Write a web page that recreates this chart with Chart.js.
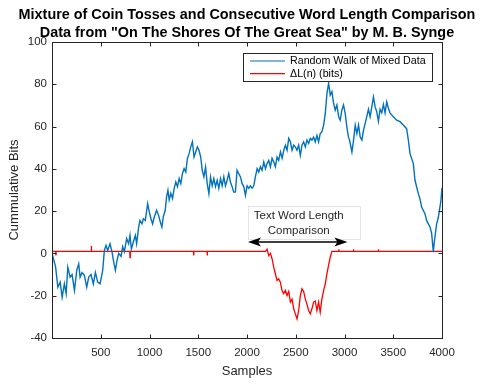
<!DOCTYPE html>
<html><head><meta charset="utf-8">
<script src="https://cdn.jsdelivr.net/npm/chart.js@4/dist/chart.umd.min.js"></script>
<style>html,body{margin:0;padding:0;background:#fff}#wrap{width:485px;height:385px}</style>
</head><body><div id="wrap"><canvas id="c" width="485" height="385"></canvas></div>
<script>
const titleLines = ['Mixture of Coin Tosses and Consecutive Word Length Comparison', 'Data from "On The Shores Of The Great Sea" by M. B. Synge'];
const xLabel = 'Samples';
const yLabel = 'Cummulative Bits';
const seriesNames = ['Random Walk of Mixed Data', '\u0394L(n) (bits)'];
const xTicks = [500, 1000, 1500, 2000, 2500, 3000, 3500, 4000];
const yTicks = [-40, -20, 0, 20, 40, 60, 80, 100];
const noteLines = ['Text Word Length', 'Comparison'];
const arrowFrom = 2010, arrowTo = 3030, arrowLevel = 5.4;

const walkSamples = [1,9,37,60,84,104,127,145,162,186,206,230,254,274,288,308,332,356,377,400,424,445,469,493,520,537,554,571,595,616,630,650,667,684,708,725,742,766,786,800,814,834,855,868,889,902,923,937,957,981,998,1015,1032,1049,1073,1093,1107,1127,1141,1161,1175,1189,1202,1219,1236,1253,1270,1287,1304,1321,1338,1355,1372,1389,1406,1423,1440,1457,1474,1491,1508,1525,1541,1558,1575,1592,1609,1626,1643,1660,1677,1694,1711,1728,1745,1762,1779,1796,1813,1830,1847,1864,1881,1898,1915,1933,1950,1967,1984,2001,2018,2035,2052,2069,2086,2104,2121,2138,2155,2172,2189,2206,2223,2240,2257,2274,2291,2308,2325,2343,2360,2377,2394,2411,2428,2445,2462,2479,2496,2513,2530,2547,2564,2581,2598,2615,2632,2649,2666,2683,2700,2717,2734,2751,2768,2786,2803,2820,2837,2854,2871,2888,2905,2922,2940,2956,2973,2990,3007,3024,3041,3052,3076,3093,3110,3127,3144,3161,3178,3195,3212,3246,3263,3297,3314,3331,3348,3365,3382,3399,3416,3433,3450,3467,3501,3535,3569,3603,3637,3655,3672,3706,3723,3757,3774,3791,3825,3842,3860,3877,3894,3911,3921,3945,3962,3989,4000];
const walkBits = [0,0,-6.5,-16,-13.6,-20.7,-14.4,-19,-6.5,-11.2,-10,-17.5,-8,-4.9,-11.2,-9,-10.3,-16,-11.2,-10,-14.4,-9,-13.6,-14.4,-8,1.4,3.8,1.4,4.6,0.6,-3.3,-8,-3.3,0,-1.4,3.2,0.8,7,4.6,8.5,2,5.4,8.5,4.6,12.5,15.6,14,16.4,15.6,23.5,19.6,16.4,14,17.2,20.4,18,15.6,12.5,17.2,20.4,26.7,29.9,25.3,28.4,26,30.8,33.8,31.6,35.4,33,37.8,40.1,38.5,44.9,47.2,50.4,52.8,45.6,48,50.4,48.8,45.6,39.3,36.2,40.9,33,28.3,36.2,32,35.4,31.6,34.6,30.8,35.4,32,36.2,32,34.6,37.8,33.8,31.6,29,29,39.3,37.8,36.2,33,31.6,27.5,32,30.8,32,30.8,32,36.2,40.1,38.5,41,39.3,43.3,40.1,42.5,44,41,45,43.3,41,45.6,44,48,45,48.8,51.2,48.8,54.4,52.8,48.8,51.2,50.4,48.8,51.2,46.4,51.2,52.8,50.4,53.6,52,54.4,53.6,55,52.8,55.8,52.8,56.7,57.5,60.7,66.2,75.7,80.4,74.9,76.5,71,67.8,70.2,64.6,63,67.8,70.2,66.2,59.9,55,53.6,48,53.6,60.7,56.7,60.7,55,53.6,58.3,61.5,68.2,64.6,74,69.3,67,62.5,68.2,66.5,70.5,66.5,71.7,68.7,66.5,64.6,63,62.3,60.7,59,53.6,47.2,42.5,34.6,28.3,25.9,21.9,18.8,15.6,14,12.5,9.5,0.6,5.4,14,17,25,31];

const deltaSamples = [1,38,40,42,400,403,406,797,800,803,1450,1453,1456,1590,1592,1594,2189,2206,2223,2240,2257,2274,2291,2308,2325,2342,2359,2376,2394,2411,2428,2445,2462,2479,2496,2513,2530,2547,2564,2581,2598,2615,2632,2649,2666,2683,2700,2717,2734,2751,2768,2786,2803,2820,2837,2854,2871,2940,2942,2944,3090,3092,3094,3346,3348,3350,4000];
const deltaBits = [1,1,-1,1,1,3.5,1,1,-2,1,1,-1,1,1,-1,1,1,2,-1,0,-2.5,-6.5,-9.6,-12.8,-12,-13.6,-17.5,-19,-17.5,-19.9,-18,-23,-21.6,-26.2,-28.6,-31,-27,-20,-16.7,-18,-21.6,-24,-27,-28.6,-26.2,-23,-22.5,-27,-23,-27.8,-21.6,-17.5,-14.4,-9.6,-5.5,-1.7,1,1,2,1,1,2,1,1,2,1,1];

const AX = '#262626';
const FONT = '"Liberation Sans", Arial, Helvetica, sans-serif';

const toXY = (xs, ys) => xs.map((v, i) => ({x: v, y: ys[i]}));

const decor = {
  id: 'decor',
  beforeDraw(chart) {
    const {ctx, chartArea: a} = chart;
    ctx.save();
    ctx.fillStyle = '#000';
    ctx.font = 'bold 14.4px ' + FONT;
    ctx.textAlign = 'center'; ctx.textBaseline = 'alphabetic';
    const cx = (a.left + a.right) / 2;
    ctx.fillText(titleLines[0], cx, 18.5);
    ctx.fillText(titleLines[1], cx, 36.5);
    ctx.restore();
  },
  afterDatasetsDraw(chart) {
    const {ctx, chartArea: a, scales: {x, y}} = chart;
    ctx.save();
    // annotation text box
    ctx.font = '11.5px ' + FONT;
    const bx0 = 248, bx1 = 360;
    const ay = y.getPixelForValue(arrowLevel);
    const by0 = ay - 36, by1 = ay - 3;
    ctx.fillStyle = '#fff';
    ctx.fillRect(bx0, by0, bx1 - bx0, by1 - by0);
    ctx.strokeStyle = '#e4e4e4'; ctx.lineWidth = 1;
    ctx.strokeRect(bx0 + 0.5, by0 + 0.5, bx1 - bx0, by1 - by0);
    ctx.fillStyle = AX; ctx.textAlign = 'center'; ctx.textBaseline = 'middle';
    const ax0 = x.getPixelForValue(arrowFrom), ax1 = x.getPixelForValue(arrowTo);
    const cx = (ax0 + ax1) / 2 + 1;
    ctx.fillText(noteLines[0], cx, by0 + 10);
    ctx.fillText(noteLines[1], cx, by0 + 25);
    // double arrow
    ctx.strokeStyle = '#000'; ctx.fillStyle = '#000'; ctx.lineWidth = 1.5;
    ctx.beginPath(); ctx.moveTo(ax0 + 8, ay); ctx.lineTo(ax1 - 8, ay); ctx.stroke();
    ctx.beginPath(); ctx.moveTo(ax0, ay); ctx.lineTo(ax0 + 13, ay - 4.5); ctx.lineTo(ax0 + 10, ay); ctx.lineTo(ax0 + 13, ay + 4.5); ctx.closePath(); ctx.fill();
    ctx.beginPath(); ctx.moveTo(ax1, ay); ctx.lineTo(ax1 - 13, ay - 4.5); ctx.lineTo(ax1 - 10, ay); ctx.lineTo(ax1 - 13, ay + 4.5); ctx.closePath(); ctx.fill();

    // axes box and inside ticks
    ctx.strokeStyle = AX; ctx.lineWidth = 1;
    const L = Math.round(a.left) + 0.5, R = Math.round(a.right) + 0.5, T = Math.round(a.top) + 0.5, B = Math.round(a.bottom) + 0.5;
    ctx.strokeRect(L, T, R - L, B - T);
    ctx.beginPath();
    x.ticks.forEach(t => { const px = Math.round(x.getPixelForValue(t.value)) + 0.5; ctx.moveTo(px, B); ctx.lineTo(px, B - 4); ctx.moveTo(px, T); ctx.lineTo(px, T + 4); });
    y.ticks.forEach(t => { const py = Math.round(y.getPixelForValue(t.value)) + 0.5; ctx.moveTo(L, py); ctx.lineTo(L + 4, py); ctx.moveTo(R, py); ctx.lineTo(R - 4, py); });
    ctx.stroke();

    // legend
    const lx0 = 243, lx1 = 432, ly0 = 53, ly1 = 81;
    ctx.fillStyle = '#fff'; ctx.fillRect(lx0, ly0, lx1 - lx0, ly1 - ly0);
    ctx.strokeStyle = AX; ctx.lineWidth = 1; ctx.strokeRect(lx0 + 0.5, ly0 + 0.5, lx1 - lx0, ly1 - ly0);
    ctx.font = '10.7px ' + FONT; ctx.textAlign = 'left'; ctx.textBaseline = 'middle';
    chart.data.datasets.forEach((ds, i) => {
      const yy = 61 + i * 12.7;
      ctx.strokeStyle = ds.borderColor; ctx.lineWidth = 1.2;
      ctx.beginPath(); ctx.moveTo(250, yy); ctx.lineTo(285, yy); ctx.stroke();
      ctx.fillStyle = '#000'; ctx.fillText(ds.label, 290, yy + 0.5);
    });
    ctx.restore();
  }
};

new Chart(document.getElementById('c'), {
  type: 'line',
  data: {
    datasets: [
      {label: seriesNames[0], data: toXY(walkSamples, walkBits), borderColor: '#0072BD', borderWidth: 1.4, pointRadius: 0, tension: 0, fill: false},
      {label: seriesNames[1], data: toXY(deltaSamples, deltaBits), borderColor: '#FF0000', borderWidth: 1.3, pointRadius: 0, tension: 0, fill: false}
    ]
  },
  options: {
    responsive: false, animation: false, devicePixelRatio: 1,
    layout: {padding: {left: 0, right: 43, top: 42, bottom: 0}},
    plugins: {legend: {display: false}, tooltip: {enabled: false}, title: {display: false}},
    scales: {
      x: {
        type: 'linear', min: 0, max: 4000,
        afterBuildTicks: s => { s.ticks = xTicks.map(v => ({value: v})); },
        afterFit: s => { s.height = 47; },
        grid: {display: false, drawTicks: false}, border: {display: false},
        ticks: {color: AX, font: {family: FONT, size: 11.5}, padding: 8, maxRotation: 0, autoSkip: false, callback: v => String(v)},
        title: {display: true, text: xLabel, color: AX, font: {family: FONT, size: 13}, padding: {top: 0, bottom: 6}}
      },
      y: {
        type: 'linear', min: -40, max: 100,
        afterBuildTicks: s => { s.ticks = yTicks.map(v => ({value: v})); },
        afterFit: s => { s.width = 52; },
        grid: {display: false, drawTicks: false}, border: {display: false},
        ticks: {color: AX, font: {family: FONT, size: 11.5}, padding: 5, callback: v => String(v)},
        title: {display: true, text: yLabel, color: AX, font: {family: FONT, size: 13}, padding: {top: 7, bottom: 0}}
      }
    }
  },
  plugins: [decor]
});
</script></body></html>
